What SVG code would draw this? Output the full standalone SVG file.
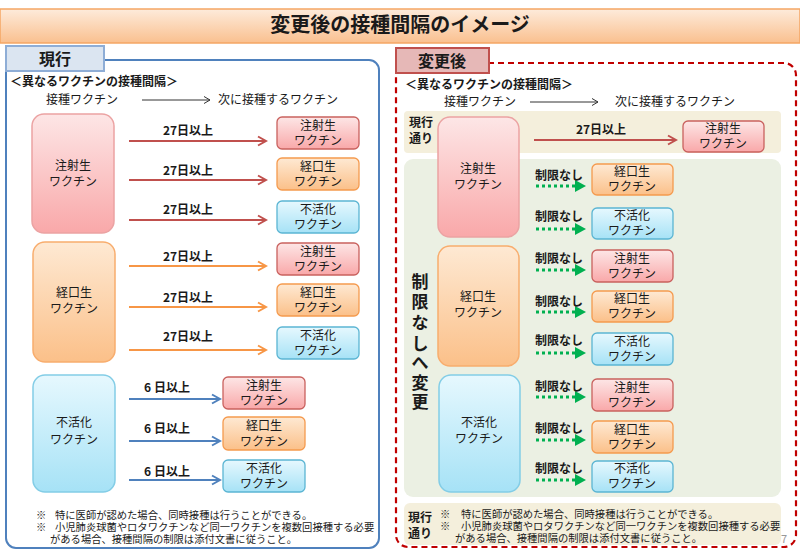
<svg xmlns="http://www.w3.org/2000/svg" width="800" height="554" viewBox="0 0 800 554">
<defs>
<style>
text { font-family: "Noto Sans CJK JP", "Noto Sans", sans-serif; fill:#1a1a1a; }
.f12 { font-size:12px; }
.b { font-weight:bold; }
.c { text-anchor:middle; }
.note { font-size:10.3px; }
.pk { fill:url(#gPink); }
.og { fill:url(#gOrange); }
.cy { fill:url(#gCyan); }
.pkB { stroke:#EBA3A3; stroke-width:1.5; }
.ogB { stroke:#F8AD6E; stroke-width:1.5; }
.cyB { stroke:#83CDE6; stroke-width:1.5; }
.pkS { stroke:#C9615E; stroke-width:1.3; }
.ogS { stroke:#F59A4E; stroke-width:1.3; }
.cyS { stroke:#5BB5D3; stroke-width:1.3; }
.ar { stroke:#C0504D; stroke-width:2; fill:none; marker-end:url(#mRed); }
.ao { stroke:#F79646; stroke-width:2; fill:none; marker-end:url(#mOrange); }
.ab { stroke:#4F81BD; stroke-width:2; fill:none; marker-end:url(#mBlue); }
.ag { stroke:#00B050; stroke-width:3; stroke-dasharray:3 3; fill:none; marker-end:url(#mGreen); }
.ak { stroke:#333; stroke-width:1; fill:none; marker-end:url(#mBlack); }
</style>
<linearGradient id="gTitle" x1="0" y1="0" x2="0" y2="1"><stop offset="0" stop-color="#FDEBDB"/><stop offset="1" stop-color="#FAC08F"/></linearGradient>
<linearGradient id="gPink" x1="0" y1="0" x2="0" y2="1"><stop offset="0" stop-color="#FDE6E6"/><stop offset="1" stop-color="#F9A8A9"/></linearGradient>
<linearGradient id="gOrange" x1="0" y1="0" x2="0" y2="1"><stop offset="0" stop-color="#FEE9D3"/><stop offset="1" stop-color="#FBC089"/></linearGradient>
<linearGradient id="gCyan" x1="0" y1="0" x2="0" y2="1"><stop offset="0" stop-color="#E6F8FE"/><stop offset="1" stop-color="#A6E2F6"/></linearGradient>
<marker id="mRed" markerUnits="userSpaceOnUse" markerWidth="12" markerHeight="12" refX="10" refY="6" orient="auto"><path d="M2,1.5 L10,6 L2,10.5" fill="none" stroke="#C0504D" stroke-width="2"/></marker>
<marker id="mOrange" markerUnits="userSpaceOnUse" markerWidth="12" markerHeight="12" refX="10" refY="6" orient="auto"><path d="M2,1.5 L10,6 L2,10.5" fill="none" stroke="#F79646" stroke-width="2"/></marker>
<marker id="mBlue" markerUnits="userSpaceOnUse" markerWidth="12" markerHeight="12" refX="10" refY="6" orient="auto"><path d="M2,1.5 L10,6 L2,10.5" fill="none" stroke="#4F81BD" stroke-width="2"/></marker>
<marker id="mBlack" markerUnits="userSpaceOnUse" markerWidth="10" markerHeight="10" refX="8" refY="5" orient="auto"><path d="M2,1.5 L8,5 L2,8.5" fill="none" stroke="#333" stroke-width="1"/></marker>
<marker id="mGreen" markerUnits="userSpaceOnUse" markerWidth="14" markerHeight="14" refX="0" refY="6" orient="auto"><path d="M0,0 L11,6 L0,12 z" fill="#00B050"/></marker>
</defs>

<rect width="800" height="554" fill="#fff"/>

<g id="title">
<rect x="0" y="9" width="800" height="34" fill="url(#gTitle)" stroke="#F5A664" stroke-width="1.5"/>
<text x="400" y="32" class="c b" font-size="20">変更後の接種間隔のイメージ</text>
</g>

<!-- LEFT PANEL -->
<g id="panel-current">
<rect x="6" y="60" width="373" height="488" rx="10" fill="#fff" stroke="#4F81BD" stroke-width="2"/>
<rect x="6" y="46" width="98" height="25" fill="#DBE5F1" stroke="#8EADD6" stroke-width="2"/>
<text x="55" y="65" class="c b" font-size="16">現行</text>
<text x="10" y="86" class="f12 b">＜異なるワクチンの接種間隔＞</text>
<text x="82" y="104" class="f12 c">接種ワクチン</text>
<text x="218" y="104" class="f12">次に接種するワクチン</text>
<text class="note"><tspan x="36" y="519">※</tspan><tspan x="55" y="519">特に医師が認めた場合、同時接種は行うことができる。</tspan><tspan x="36" y="531">※</tspan><tspan x="55" y="531">小児肺炎球菌やロタワクチンなど同一ワクチンを複数回接種する必要</tspan><tspan x="50" y="543">がある場合、接種間隔の制限は添付文書に従うこと。</tspan></text>
</g>

<g id="L-src-live-inj">
<rect x="32" y="114" width="82" height="119" rx="12" class="pk pkB"/>
<text class="f12 c"><tspan x="73" y="170">注射生</tspan><tspan x="73" y="186">ワクチン</tspan></text>
</g>
<g id="L-src-oral">
<rect x="33" y="242" width="82" height="120" rx="12" class="og ogB"/>
<text class="f12 c"><tspan x="74" y="297">経口生</tspan><tspan x="74" y="313">ワクチン</tspan></text>
</g>
<g id="L-src-inact">
<rect x="33" y="375" width="82" height="117" rx="12" class="cy cyB"/>
<text class="f12 c"><tspan x="74" y="427">不活化</tspan><tspan x="74" y="444">ワクチン</tspan></text>
</g>

<g id="L-t1"><rect x="277" y="117" width="82" height="32" rx="5" class="pk pkS"/><text class="f12 c"><tspan x="318" y="130">注射生</tspan><tspan x="318" y="145">ワクチン</tspan></text></g>
<g id="L-t2"><rect x="277" y="158" width="82" height="32" rx="5" class="og ogS"/><text class="f12 c"><tspan x="318" y="171">経口生</tspan><tspan x="318" y="186">ワクチン</tspan></text></g>
<g id="L-t3"><rect x="277" y="201" width="82" height="32" rx="5" class="cy cyS"/><text class="f12 c"><tspan x="318" y="214">不活化</tspan><tspan x="318" y="229">ワクチン</tspan></text></g>
<g id="L-t4"><rect x="277" y="243" width="82" height="32" rx="5" class="pk pkS"/><text class="f12 c"><tspan x="318" y="256">注射生</tspan><tspan x="318" y="271">ワクチン</tspan></text></g>
<g id="L-t5"><rect x="277" y="284" width="82" height="32" rx="5" class="og ogS"/><text class="f12 c"><tspan x="318" y="297">経口生</tspan><tspan x="318" y="312">ワクチン</tspan></text></g>
<g id="L-t6"><rect x="277" y="327" width="82" height="32" rx="5" class="cy cyS"/><text class="f12 c"><tspan x="318" y="340">不活化</tspan><tspan x="318" y="355">ワクチン</tspan></text></g>
<g id="L-t7"><rect x="223" y="377" width="82" height="32" rx="5" class="pk pkS"/><text class="f12 c"><tspan x="264" y="390">注射生</tspan><tspan x="264" y="405">ワクチン</tspan></text></g>
<g id="L-t8"><rect x="223" y="417" width="82" height="33" rx="5" class="og ogS"/><text class="f12 c"><tspan x="264" y="430">経口生</tspan><tspan x="264" y="446">ワクチン</tspan></text></g>
<g id="L-t9"><rect x="223" y="460" width="82" height="32" rx="5" class="cy cyS"/><text class="f12 c"><tspan x="264" y="473">不活化</tspan><tspan x="264" y="488">ワクチン</tspan></text></g>

<!-- RIGHT PANEL -->
<g id="panel-after">
<rect x="396" y="63" width="400" height="484" rx="12" fill="#fff" stroke="#C00000" stroke-width="2.2" stroke-dasharray="6 4"/>
<rect x="396" y="48" width="93" height="25" fill="#E6B8B7" stroke="#C0504D" stroke-width="2"/>
<text x="442" y="67" class="c b" font-size="16">変更後</text>
<text x="405" y="89" class="f12 b">＜異なるワクチンの接種間隔＞</text>
<text x="480" y="106" class="f12 c">接種ワクチン</text>
<text x="615" y="106" class="f12">次に接種するワクチン</text>
<rect x="404" y="111" width="377" height="42" rx="4" fill="#F4EFDC"/>
<text class="f12 b"><tspan x="409" y="127">現行</tspan><tspan x="409" y="143">通り</tspan></text>
<rect x="404" y="159" width="377" height="338" rx="9" fill="#EBF0E3"/>
<text class="b c" font-size="17"><tspan x="420" y="288">制</tspan><tspan x="420" y="308">限</tspan><tspan x="420" y="329">な</tspan><tspan x="420" y="350">し</tspan><tspan x="420" y="369">へ</tspan><tspan x="420" y="389">変</tspan><tspan x="420" y="408">更</tspan></text>
<rect x="404" y="503" width="377" height="42" rx="6" fill="#F4EFDC"/>
<text class="f12 b"><tspan x="408" y="522">現行</tspan><tspan x="408" y="538">通り</tspan></text>
<text class="note"><tspan x="440" y="518">※</tspan><tspan x="461" y="518">特に医師が認めた場合、同時接種は行うことができる。</tspan><tspan x="440" y="530">※</tspan><tspan x="461" y="530">小児肺炎球菌やロタワクチンなど同一ワクチンを複数回接種する必要</tspan><tspan x="455" y="542">がある場合、接種間隔の制限は添付文書に従うこと。</tspan></text>
<text x="784" y="543" font-size="11" class="c" style="fill:#999">7</text>
</g>

<g id="R-src-live-inj">
<rect x="438" y="117" width="81" height="120" rx="12" class="pk pkB"/>
<text class="f12 c"><tspan x="478" y="173">注射生</tspan><tspan x="478" y="189">ワクチン</tspan></text>
</g>
<g id="R-src-oral">
<rect x="438" y="246" width="81" height="120" rx="12" class="og ogB"/>
<text class="f12 c"><tspan x="478" y="301">経口生</tspan><tspan x="478" y="317">ワクチン</tspan></text>
</g>
<g id="R-src-inact">
<rect x="439" y="375" width="81" height="117" rx="12" class="cy cyB"/>
<text class="f12 c"><tspan x="479" y="427">不活化</tspan><tspan x="479" y="443">ワクチン</tspan></text>
</g>

<g id="R-t0"><rect x="683" y="121" width="81" height="31" rx="5" class="pk pkS"/><text class="f12 c"><tspan x="723" y="133">注射生</tspan><tspan x="723" y="148">ワクチン</tspan></text></g>
<g id="R-t1"><rect x="592" y="164" width="81" height="31" rx="5" class="og ogS"/><text class="f12 c"><tspan x="632" y="176">経口生</tspan><tspan x="632" y="191">ワクチン</tspan></text></g>
<g id="R-t2"><rect x="592" y="208" width="81" height="31" rx="5" class="cy cyS"/><text class="f12 c"><tspan x="632" y="220">不活化</tspan><tspan x="632" y="235">ワクチン</tspan></text></g>
<g id="R-t3"><rect x="592" y="250" width="81" height="32" rx="5" class="pk pkS"/><text class="f12 c"><tspan x="632" y="263">注射生</tspan><tspan x="632" y="278">ワクチン</tspan></text></g>
<g id="R-t4"><rect x="592" y="291" width="81" height="31" rx="5" class="og ogS"/><text class="f12 c"><tspan x="632" y="303">経口生</tspan><tspan x="632" y="318">ワクチン</tspan></text></g>
<g id="R-t5"><rect x="592" y="333" width="81" height="32" rx="5" class="cy cyS"/><text class="f12 c"><tspan x="632" y="346">不活化</tspan><tspan x="632" y="361">ワクチン</tspan></text></g>
<g id="R-t6"><rect x="592" y="379" width="81" height="32" rx="5" class="pk pkS"/><text class="f12 c"><tspan x="632" y="392">注射生</tspan><tspan x="632" y="407">ワクチン</tspan></text></g>
<g id="R-t7"><rect x="592" y="421" width="81" height="32" rx="5" class="og ogS"/><text class="f12 c"><tspan x="632" y="434">経口生</tspan><tspan x="632" y="449">ワクチン</tspan></text></g>
<g id="R-t8"><rect x="592" y="461" width="81" height="31" rx="5" class="cy cyS"/><text class="f12 c"><tspan x="632" y="473">不活化</tspan><tspan x="632" y="488">ワクチン</tspan></text></g>

<g id="connectors">
<line x1="142" y1="100" x2="210" y2="100" class="ak"/>
<line x1="530" y1="102" x2="598" y2="102" class="ak"/>

<line x1="129" y1="141" x2="266" y2="141" class="ar"/>
<line x1="129" y1="180" x2="266" y2="180" class="ar"/>
<line x1="129" y1="220" x2="266" y2="220" class="ar"/>
<line x1="129" y1="266" x2="266" y2="266" class="ao"/>
<line x1="129" y1="307" x2="266" y2="307" class="ao"/>
<line x1="129" y1="350" x2="266" y2="350" class="ao"/>
<line x1="129" y1="399" x2="220" y2="399" class="ab"/>
<line x1="129" y1="441" x2="220" y2="441" class="ab"/>
<line x1="129" y1="480" x2="220" y2="480" class="ab"/>

<g class="f12 b">
<text x="188" y="135" class="c">27日以上</text>
<text x="188" y="175" class="c">27日以上</text>
<text x="188" y="214" class="c">27日以上</text>
<text x="188" y="261" class="c">27日以上</text>
<text x="188" y="302" class="c">27日以上</text>
<text x="188" y="341" class="c">27日以上</text>
<text x="167" y="392" class="c">6 日以上</text>
<text x="167" y="433" class="c">6 日以上</text>
<text x="167" y="476" class="c">6 日以上</text>
</g>

<line x1="534" y1="140" x2="676" y2="140" class="ar"/>
<text x="601" y="134" class="f12 b c">27日以上</text>

<line x1="536" y1="186" x2="575" y2="186" class="ag"/>
<line x1="536" y1="229" x2="575" y2="229" class="ag"/>
<line x1="536" y1="270" x2="575" y2="270" class="ag"/>
<line x1="536" y1="312" x2="575" y2="312" class="ag"/>
<line x1="536" y1="353" x2="575" y2="353" class="ag"/>
<line x1="536" y1="397" x2="575" y2="397" class="ag"/>
<line x1="536" y1="440" x2="575" y2="440" class="ag"/>
<line x1="536" y1="480" x2="575" y2="480" class="ag"/>
<g class="f12 b">
<text x="559" y="180" class="c">制限なし</text>
<text x="559" y="221" class="c">制限なし</text>
<text x="559" y="263" class="c">制限なし</text>
<text x="559" y="306" class="c">制限なし</text>
<text x="559" y="345" class="c">制限なし</text>
<text x="559" y="391" class="c">制限なし</text>
<text x="559" y="433" class="c">制限なし</text>
<text x="559" y="473" class="c">制限なし</text>
</g>
</g>
</svg>
